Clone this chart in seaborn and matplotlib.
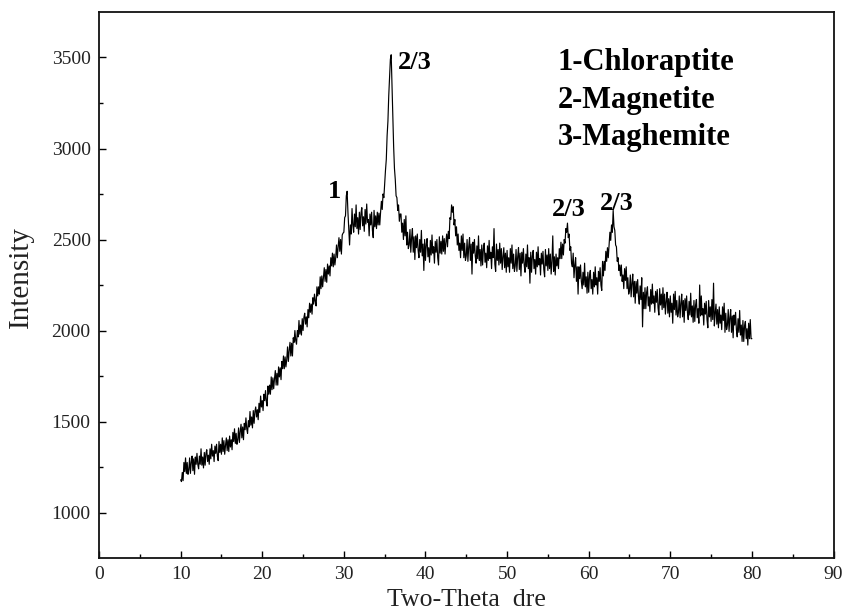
import numpy as np
import pandas as pd
import matplotlib
matplotlib.use("Agg")
import matplotlib.pyplot as plt
import seaborn as sns

# 2-theta sampling: 10 to 80 degrees, one reading every 0.1 degree
theta_start = 10.0
theta_end = 80.0

# intensities (10 readings per degree)
intensity = [
    1180, 1170, 1220, 1175, 1275, 1225, 1300, 1215, 1275, 1210,  # 10
    1235, 1300, 1215, 1275, 1310, 1230, 1295, 1210, 1305, 1265,  # 11
    1325, 1265, 1240, 1310, 1265, 1350, 1260, 1305, 1245, 1330,  # 12
    1260, 1325, 1345, 1280, 1315, 1265, 1350, 1295, 1375, 1310,  # 13
    1340, 1280, 1365, 1325, 1375, 1310, 1285, 1390, 1330, 1375,  # 14
    1320, 1410, 1335, 1395, 1320, 1370, 1410, 1340, 1400, 1335,  # 15
    1420, 1360, 1400, 1345, 1440, 1390, 1460, 1380, 1435, 1375,  # 16
    1400, 1465, 1385, 1445, 1485, 1410, 1470, 1400, 1490, 1455,  # 17
    1520, 1460, 1435, 1505, 1470, 1555, 1480, 1525, 1465, 1560,  # 18
    1490, 1555, 1580, 1525, 1565, 1510, 1600, 1550, 1640, 1580,  # 19
    1615, 1560, 1650, 1615, 1670, 1610, 1585, 1695, 1650, 1700,  # 20
    1650, 1745, 1675, 1740, 1680, 1735, 1780, 1700, 1765, 1700,  # 21
    1800, 1745, 1795, 1730, 1830, 1790, 1860, 1790, 1855, 1800,  # 22
    1840, 1910, 1830, 1890, 1935, 1860, 1930, 1860, 1960, 1935,  # 23
    2000, 1945, 1925, 2000, 1965, 2055, 1980, 2030, 1975, 2065,  # 24
    2000, 2070, 2095, 2035, 2075, 2020, 2115, 2070, 2150, 2100,  # 25
    2145, 2090, 2180, 2145, 2200, 2160, 2135, 2240, 2190, 2240,  # 26
    2200, 2295, 2230, 2300, 2240, 2295, 2345, 2270, 2335, 2265,  # 27
    2365, 2310, 2355, 2300, 2400, 2355, 2425, 2350, 2420, 2360,  # 28
    2400, 2470, 2400, 2460, 2510, 2435, 2500, 2420, 2525, 2535,  # 29
    2540, 2620, 2630, 2740, 2765, 2650, 2560, 2470, 2580, 2530,  # 30
    2670, 2580, 2540, 2640, 2570, 2690, 2560, 2620, 2530, 2650,  # 31
    2555, 2645, 2675, 2575, 2625, 2545, 2665, 2585, 2695, 2595,  # 32
    2610, 2520, 2640, 2580, 2650, 2550, 2510, 2660, 2570, 2630,  # 33
    2560, 2650, 2580, 2645, 2580, 2650, 2710, 2665, 2750, 2730,  # 34
    2810, 2880, 2940, 3070, 3150, 3290, 3390, 3490, 3515, 3340,  # 35
    3160, 3010, 2890, 2830, 2740, 2730, 2660, 2690, 2600, 2640,  # 36
    2640, 2540, 2590, 2500, 2610, 2520, 2630, 2470, 2540, 2450,  # 37
    2470, 2555, 2430, 2510, 2560, 2430, 2515, 2390, 2520, 2455,  # 38
    2530, 2440, 2400, 2500, 2430, 2550, 2410, 2475, 2330, 2500,  # 39
    2385, 2475, 2505, 2405, 2455, 2375, 2495, 2415, 2525, 2425,  # 40
    2460, 2370, 2490, 2430, 2500, 2400, 2360, 2515, 2425, 2490,  # 41
    2420, 2520, 2435, 2505, 2420, 2485, 2530, 2460, 2545, 2505,  # 42
    2620, 2610, 2690, 2650, 2680, 2580, 2610, 2520, 2570, 2470,  # 43
    2530, 2440, 2480, 2400, 2520, 2440, 2530, 2400, 2480, 2385,  # 44
    2410, 2500, 2380, 2460, 2510, 2385, 2475, 2310, 2485, 2425,  # 45
    2500, 2410, 2370, 2465, 2395, 2520, 2385, 2445, 2355, 2470,  # 46
    2360, 2450, 2480, 2375, 2425, 2345, 2465, 2385, 2495, 2395,  # 47
    2430, 2340, 2460, 2400, 2560, 2365, 2325, 2475, 2385, 2445,  # 48
    2360, 2480, 2370, 2450, 2335, 2405, 2455, 2345, 2425, 2320,  # 49
    2440, 2350, 2400, 2320, 2450, 2370, 2470, 2340, 2420, 2325,  # 50
    2355, 2445, 2325, 2405, 2455, 2335, 2425, 2300, 2430, 2370,  # 51
    2450, 2360, 2320, 2420, 2350, 2470, 2340, 2400, 2260, 2430,  # 52
    2320, 2410, 2440, 2340, 2390, 2310, 2430, 2350, 2460, 2360,  # 53
    2395, 2305, 2425, 2365, 2435, 2335, 2295, 2445, 2355, 2415,  # 54
    2330, 2450, 2340, 2420, 2310, 2380, 2520, 2325, 2405, 2305,  # 55
    2420, 2355, 2400, 2340, 2450, 2395, 2485, 2395, 2475, 2415,  # 56
    2500, 2480, 2560, 2540, 2590, 2510, 2530, 2440, 2460, 2370,  # 57
    2350, 2425, 2290, 2360, 2400, 2270, 2350, 2200, 2350, 2285,  # 58
    2360, 2270, 2230, 2320, 2250, 2370, 2240, 2295, 2205, 2320,  # 59
    2210, 2300, 2330, 2230, 2280, 2200, 2320, 2240, 2350, 2250,  # 60
    2290, 2200, 2325, 2270, 2345, 2250, 2220, 2380, 2300, 2380,  # 61
    2330, 2435, 2380, 2455, 2400, 2475, 2540, 2495, 2580, 2540,  # 62
    2660, 2570, 2550, 2470, 2460, 2380, 2400, 2330, 2360, 2300,  # 63
    2360, 2270, 2305, 2230, 2340, 2275, 2350, 2230, 2290, 2200,  # 64
    2220, 2305, 2185, 2260, 2310, 2185, 2270, 2150, 2270, 2205,  # 65
    2280, 2185, 2145, 2245, 2170, 2290, 2020, 2210, 2120, 2235,  # 66
    2120, 2210, 2240, 2135, 2185, 2105, 2225, 2145, 2255, 2150,  # 67
    2190, 2100, 2215, 2155, 2225, 2125, 2085, 2230, 2140, 2200,  # 68
    2115, 2235, 2125, 2200, 2090, 2160, 2210, 2095, 2175, 2075,  # 69
    2190, 2100, 2150, 2040, 2200, 2115, 2215, 2085, 2165, 2075,  # 70
    2100, 2190, 2070, 2150, 2200, 2075, 2165, 2045, 2175, 2110,  # 71
    2190, 2100, 2060, 2160, 2085, 2205, 2075, 2135, 2045, 2165,  # 72
    2050, 2140, 2170, 2070, 2120, 2040, 2250, 2080, 2190, 2085,  # 73
    2120, 2030, 2150, 2090, 2160, 2060, 2015, 2165, 2075, 2130,  # 74
    2050, 2170, 2060, 2260, 2025, 2095, 2145, 2035, 2115, 2015,  # 75
    2130, 2040, 2085, 2005, 2130, 2055, 2150, 1990, 2095, 2005,  # 76
    2030, 2115, 1995, 2070, 2115, 1990, 2080, 1960, 2085, 2030,  # 77
    2100, 2005, 1965, 2065, 1990, 2110, 1975, 2030, 1940, 2055,  # 78
    1940, 2025, 2050, 1955, 2010, 1920, 2040, 1955, 2060, 1955,  # 79
    1955,                                                        # 80
]

two_theta = np.linspace(theta_start, theta_end, len(intensity))
df = pd.DataFrame({"two_theta": two_theta, "intensity": intensity})

legend_lines = ["1-Chloraptite", "2-Magnetite", "3-Maghemite"]
peak_labels = ["1", "2/3", "2/3", "2/3"]
peak_label_x = [28.9, 38.7, 57.5, 63.5]
peak_label_y = [2766, 3472, 2665, 2698]

x_ticks = list(range(0, 91, 10))
y_ticks = [1000, 1500, 2000, 2500, 3000, 3500]

sns.set_theme(style="ticks")
plt.rcParams["font.family"] = ["Liberation Serif", "DejaVu Serif"]

fig = plt.figure(figsize=(8.45, 6.12), dpi=100)
ax = fig.add_axes([0.1172, 0.0882, 0.8692, 0.8922])

sns.lineplot(data=df, x="two_theta", y="intensity", color="black",
             linewidth=0.85, estimator=None, ax=ax)

ax.set_xlim(0, 90)
ax.set_ylim(750, 3750)
ax.set_xticks(x_ticks)
ax.set_yticks(y_ticks)
ax.set_xticks([5 + 10 * i for i in range(9)], minor=True)
ax.set_yticks([1250, 1750, 2250, 2750, 3250], minor=True)
ax.tick_params(axis="both", which="major", direction="in", length=5,
               width=1.0, labelsize=14, color="black", labelcolor="#222222",
               pad=6, top=False, right=False)
ax.tick_params(axis="both", which="minor", direction="in", length=3,
               width=1.0, color="black", top=False, right=False)
for s in ax.spines.values():
    s.set_linewidth(1.3)
    s.set_color("#111111")

ax.set_xlabel("Two-Theta  dre", fontsize=18.5, color="#222222", labelpad=4)
ax.set_ylabel("Intensity", fontsize=21, color="#222222")
ax.yaxis.set_label_coords(-0.088, 0.515)

for lab, xx, yy in zip(peak_labels, peak_label_x, peak_label_y):
    ax.text(xx, yy, lab, fontsize=19, fontweight="bold", ha="center",
            va="center", color="black")

for i, line in enumerate(legend_lines):
    ax.text(56.2, 3472 - i * 206, line, fontsize=22, fontweight="bold",
            ha="left", va="center", color="black")

fig.savefig("out.png", dpi=100, facecolor="white")
